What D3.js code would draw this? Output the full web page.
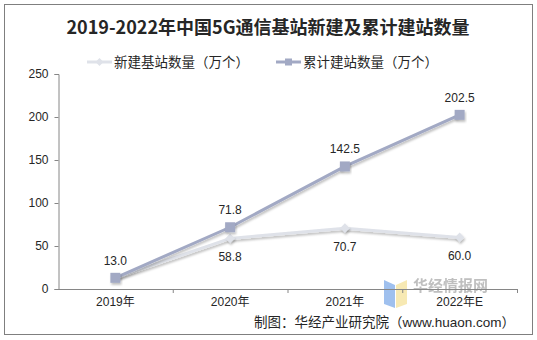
<!DOCTYPE html>
<html>
<head>
<meta charset="utf-8">
<script src="https://cdn.jsdelivr.net/npm/d3@7"></script>
<style>
  body { margin: 0; background: #fff; }
  svg text { font-family: Arial, "Liberation Sans", "Noto Sans CJK SC", sans-serif; }
</style>
</head>
<body>
<div id="chart"></div>
<script>
const years = ['2019年', '2020年', '2021年', '2022年E'];
const newStations = [null, 58.8, 70.7, 60.0];
const totalStations = [13.0, 71.8, 142.5, 202.5];
const yTicks = [0, 50, 100, 150, 200, 250];
const seriesNames = ['新建基站数量（万个）', '累计建站数量（万个）'];

// first point of the new-station line sits under the total one
const newLine = [13.0, 58.8, 70.7, 60.0];

const w = 537;
const h = 340;
const colNew = '#dfe2e9';
const colTotal = '#a2a9c4';

const svg = d3.select('#chart')
    .append('svg')
    .attr('width', w)
    .attr('height', h);

const defs = svg.append('defs');
const shadow = defs.append('filter').attr('id', 'shadow')
    .attr('x', '-20%').attr('y', '-20%').attr('width', '140%').attr('height', '160%');
shadow.append('feDropShadow')
    .attr('dx', 1).attr('dy', 2).attr('stdDeviation', 1.2)
    .attr('flood-color', '#000').attr('flood-opacity', 0.25);

// frame
svg.append('rect')
    .attr('x', 4.5).attr('y', 4.5)
    .attr('width', 528).attr('height', 330)
    .attr('fill', 'none')
    .attr('stroke', '#7f7f7f');

svg.append('text')
    .attr('x', 268).attr('y', 34)
    .attr('text-anchor', 'middle')
    .style('font-family', '"Noto Sans CJK SC", sans-serif')
    .style('font-size', '18px')
    .style('font-weight', 'bold')
    .style('fill', '#262626')
    .text('2019-2022年中国5G通信基站新建及累计建站数量');

const xScale = d3.scaleBand()
    .domain(years)
    .range([58, 517]);

const yScale = d3.scaleLinear()
    .domain([0, 250])
    .range([289, 74]);

// watermark (drawn first so the chart sits on top)
const wm = svg.append('g').attr('opacity', 0.85);
wm.append('path')
    .attr('d', 'M384,280 L395,285 L395,308 L384,304 Z')
    .attr('fill', '#8fb6ec');
wm.append('path')
    .attr('d', 'M396,285 L407,280 L407,304 L396,308 Z')
    .attr('fill', '#f6e6a6');
wm.append('text')
    .attr('x', 413).attr('y', 291)
    .style('font-family', '"Noto Sans CJK SC", sans-serif')
    .style('font-size', '15px')
    .style('font-weight', 'bold')
    .style('fill', '#b5b5b5')
    .text('华经情报网');

const xAxis = d3.axisBottom(xScale).tickSize(0).tickPadding(8);
const yAxis = d3.axisLeft(yScale).tickValues(yTicks).tickSize(4).tickPadding(6);

const gx = svg.append('g')
    .attr('transform', 'translate(0, 289)')
    .call(xAxis);
gx.select('.domain').attr('stroke', '#868686');
gx.selectAll('text')
    .style('font-size', '12px')
    .style('fill', '#262626')
    .style('font-family', 'Arial, "Noto Sans CJK SC", sans-serif');

// category boundary ticks
svg.append('g').selectAll('line')
    .data(years.slice(1).concat(['end']))
    .enter()
    .append('line')
    .attr('x1', (d, i) => xScale(years[0]) + xScale.step() * (i + 1) + 0.5)
    .attr('x2', (d, i) => xScale(years[0]) + xScale.step() * (i + 1) + 0.5)
    .attr('y1', 289).attr('y2', 293)
    .attr('stroke', '#868686');

const gy = svg.append('g')
    .attr('transform', 'translate(58.5, 0)')
    .call(yAxis);
gy.select('.domain').attr('stroke', '#868686');
gy.selectAll('.tick line').attr('stroke', '#868686');
gy.selectAll('text')
    .style('font-size', '12px')
    .style('fill', '#262626');

const cx = d => xScale(d) + xScale.bandwidth() / 2;
const line = d3.line()
    .x((d, i) => cx(years[i]))
    .y(d => yScale(d));

svg.append('path')
    .datum(newLine)
    .attr('d', line)
    .attr('fill', 'none')
    .attr('stroke', colNew)
    .attr('stroke-width', 3)
    .attr('filter', 'url(#shadow)');

svg.append('g').selectAll('path')
    .data(newStations)
    .enter()
    .filter(d => d !== null)
    .append('path')
    .attr('d', d3.symbol(d3.symbolDiamond2, 60))
    .attr('transform', d => `translate(${cx(years[newStations.indexOf(d)])}, ${yScale(d)})`)
    .attr('fill', colNew)
    .attr('filter', 'url(#shadow)');

svg.append('path')
    .datum(totalStations)
    .attr('d', line)
    .attr('fill', 'none')
    .attr('stroke', colTotal)
    .attr('stroke-width', 3)
    .attr('filter', 'url(#shadow)');

svg.append('g').selectAll('rect')
    .data(totalStations)
    .enter()
    .append('rect')
    .attr('x', (d, i) => cx(years[i]) - 5)
    .attr('y', d => yScale(d) - 5)
    .attr('width', 10).attr('height', 10)
    .attr('fill', colTotal)
    .attr('filter', 'url(#shadow)');

// labels
svg.append('g').selectAll('text')
    .data(totalStations)
    .enter()
    .append('text')
    .attr('x', (d, i) => cx(years[i]))
    .attr('y', d => yScale(d) - 13)
    .attr('text-anchor', 'middle')
    .style('font-size', '12px')
    .style('fill', '#262626')
    .text(d => d.toFixed(1));

svg.append('g').selectAll('text')
    .data(newStations)
    .enter()
    .filter(d => d !== null)
    .append('text')
    .attr('x', d => cx(years[newStations.indexOf(d)]))
    .attr('y', d => yScale(d) + 23)
    .attr('text-anchor', 'middle')
    .style('font-size', '12px')
    .style('fill', '#262626')
    .text(d => d.toFixed(1));

// legend
const legend = [
    { name: seriesNames[0], color: colNew, x: 87, sym: 'diamond' },
    { name: seriesNames[1], color: colTotal, x: 276, sym: 'square' }
];
legend.forEach(l => {
    const g = svg.append('g');
    g.append('line')
        .attr('x1', l.x).attr('x2', l.x + 25)
        .attr('y1', 62).attr('y2', 62)
        .attr('stroke', l.color)
        .attr('stroke-width', 3);
    if (l.sym === 'diamond') {
        g.append('path')
            .attr('d', d3.symbol(d3.symbolDiamond2, 40))
            .attr('transform', `translate(${l.x + 12.5}, 62)`)
            .attr('fill', l.color);
    } else {
        g.append('rect')
            .attr('x', l.x + 9).attr('y', 58.5)
            .attr('width', 7).attr('height', 7)
            .attr('fill', l.color);
    }
    g.append('text')
        .attr('x', l.x + 27).attr('y', 67)
        .style('font-family', '"Noto Sans CJK SC", sans-serif')
        .style('font-size', '13.5px')
        .style('fill', '#262626')
        .text(l.name);
});

svg.append('text')
    .attr('x', 515).attr('y', 327)
    .attr('text-anchor', 'end')
    .style('font-family', 'Arial, "Noto Sans CJK SC", sans-serif')
    .style('font-size', '13.5px')
    .style('fill', '#262626')
    .text('制图：华经产业研究院（www.huaon.com）');
</script>
</body>
</html>
